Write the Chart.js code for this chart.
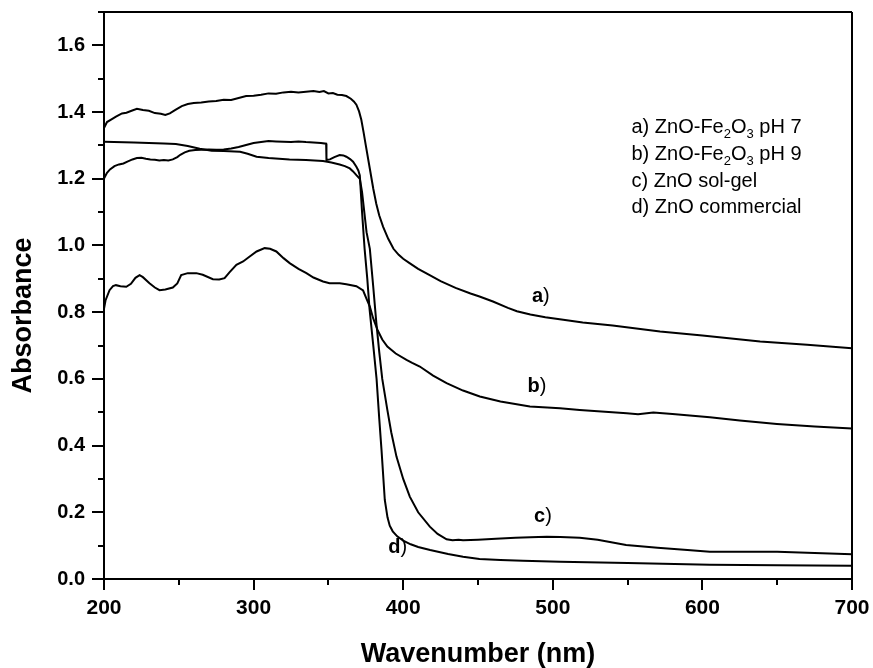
<!DOCTYPE html>
<html>
<head>
<meta charset="utf-8">
<script src="https://cdn.jsdelivr.net/npm/chart.js@4.4.1/dist/chart.umd.min.js"></script>
<style>
html,body{margin:0;padding:0;background:#fff;}
#wrap{width:873px;height:668px;}
</style>
</head>
<body>
<div id="wrap"><canvas id="c" width="873" height="668"></canvas></div>
<script>
// ---- data (wavelength nm, absorbance) ----
const wlA = [200,202,205,208,212,215,218,222,226,230,234,238,241,244,248,252,256,260,265,270,275,280,285,290,295,300,305,310,315,320,325,330,335,340,344,347,350,353,356,359,362,365,367,368.7,370.5,372,373.5,375,377.7,380,382,384,386.6,390,393.5,397,400,404,410,418,425,435,445,451,460,470,476,485,495,507,520,540,571.7,600,638.6,670,700];
const absA = [1.352,1.370,1.378,1.386,1.396,1.398,1.403,1.410,1.406,1.404,1.397,1.395,1.391,1.396,1.407,1.418,1.424,1.427,1.429,1.432,1.433,1.437,1.436,1.442,1.448,1.449,1.452,1.456,1.455,1.459,1.461,1.459,1.461,1.463,1.460,1.463,1.456,1.457,1.452,1.451,1.448,1.440,1.432,1.422,1.402,1.377,1.340,1.300,1.230,1.170,1.125,1.090,1.056,1.020,0.990,0.972,0.960,0.948,0.930,0.910,0.893,0.873,0.856,0.847,0.832,0.813,0.803,0.793,0.785,0.777,0.769,0.760,0.742,0.730,0.712,0.702,0.692];

const wlB = [200,201,203.7,206,208,211,214.9,218,221,223.8,226,230.4,234,237.1,241,246,249,251.6,256,261.7,266,272.8,277,280.6,284,288.5,293,297.4,302,307.4,311,315.2,320,324.1,330,335.3,340,346.4,350.8,357.6,362,368.7,373.2,375.5,377.7,379.9,383,386,389.4,395,402.2,406,411.1,420,429,440,451.2,465,484.7,504.8,518,549.4,557,567.2,580,605,625,649.8,675,700];
const absB = [0.810,0.835,0.866,0.878,0.881,0.878,0.876,0.885,0.903,0.911,0.905,0.887,0.874,0.866,0.868,0.874,0.886,0.911,0.917,0.917,0.912,0.899,0.898,0.902,0.920,0.942,0.952,0.967,0.982,0.992,0.990,0.982,0.962,0.947,0.930,0.917,0.904,0.892,0.887,0.887,0.884,0.878,0.865,0.840,0.817,0.782,0.745,0.718,0.697,0.676,0.657,0.648,0.637,0.610,0.587,0.565,0.547,0.532,0.517,0.512,0.507,0.497,0.494,0.499,0.495,0.485,0.475,0.465,0.457,0.451];

const wlC = [200,220,240,248,256,264,272,280,291,296,302,310,324,335,346.4,352,357.5,361,364.3,366.5,368.7,371,372.5,374,375.5,377.7,379.9,382,384,386,389.4,392,395.5,400,404.4,410,417.8,423,429,433,437,440,445,450,462,475,485,496,505,518,530,549,570,590,605,630,650,675,700];
const absC = [1.311,1.309,1.306,1.304,1.298,1.290,1.284,1.283,1.281,1.275,1.266,1.262,1.258,1.256,1.253,1.249,1.243,1.238,1.231,1.222,1.211,1.200,1.160,1.100,1.040,0.990,0.880,0.770,0.680,0.600,0.507,0.440,0.367,0.300,0.247,0.200,0.157,0.135,0.119,0.116,0.118,0.116,0.117,0.118,0.121,0.124,0.125,0.127,0.126,0.124,0.118,0.102,0.094,0.087,0.082,0.082,0.082,0.078,0.074];

const wlD = [200,202,204,207,210,213,216,219,222,225,228,231,234,237,240,243,246,249,251,254,257,261,265,270,275,280,285,290,295,300,305,310,315,320,325,330,335,340,345,348.5,348.7,351,354,357.5,360,362,364.5,366.5,368.7,370,371,372.5,374.2,376,377.5,380,382.2,384,385.5,387.7,389.5,391,393,396,400,405,410,418,430,440,451,465,480,505,550,605,650,700];
const absD = [1.201,1.218,1.228,1.238,1.243,1.246,1.252,1.258,1.262,1.263,1.260,1.258,1.257,1.255,1.256,1.255,1.258,1.265,1.272,1.279,1.284,1.286,1.287,1.288,1.287,1.288,1.291,1.295,1.301,1.307,1.310,1.313,1.312,1.311,1.310,1.312,1.310,1.309,1.307,1.305,1.256,1.258,1.265,1.271,1.270,1.266,1.259,1.251,1.236,1.225,1.210,1.100,0.990,0.900,0.810,0.700,0.600,0.480,0.387,0.237,0.185,0.160,0.143,0.128,0.115,0.104,0.096,0.087,0.075,0.067,0.060,0.057,0.055,0.052,0.048,0.043,0.041,0.040];

const legendLines = [
  ["a) ZnO-Fe", "2", "O", "3", " pH 7"],
  ["b) ZnO-Fe", "2", "O", "3", " pH 9"],
  ["c) ZnO sol-gel"],
  ["d) ZnO commercial"]
];
const curveLabels = ["a", "b", "c", "d"];
const curveLabelX = [492, 489.4, 493.4, 396.3];
const curveLabelY = [0.846, 0.576, 0.186, 0.093];

const xTitle = "Wavenumber (nm)";
const yTitle = "Absorbance";

// ---- build ----
const FAM = '"Liberation Sans", Arial, Helvetica, sans-serif';
function pts(xs, ys){ return xs.map((x,i)=>({x:x, y:ys[i]})); }
function ds(label, xs, ys){
  return {label, data: pts(xs, ys), borderColor:'#000', borderWidth:2, pointRadius:0, tension:0, fill:false};
}

const decor = {
  id:'decor',
  afterDraw(chart){
    const ctx = chart.ctx, ca = chart.chartArea;
    const xs = chart.scales.x, ys = chart.scales.y;
    ctx.save();
    ctx.strokeStyle = '#000';
    ctx.lineWidth = 2;
    // frame top & right
    ctx.beginPath();
    ctx.moveTo(ca.left-1, ca.top); ctx.lineTo(ca.right, ca.top);
    ctx.moveTo(ca.right, ca.top); ctx.lineTo(ca.right, ca.bottom);
    ctx.stroke();
    // x ticks
    ctx.beginPath();
    for (let v=200; v<=700; v+=50){
      const p = Math.round(xs.getPixelForValue(v));
      const len = (v%100===0) ? 11 : 6;
      ctx.moveTo(p, ca.bottom); ctx.lineTo(p, ca.bottom+len);
    }
    // y ticks
    for (let k=0; k<=17; k++){
      const v = k/10;
      const p = Math.round(ys.getPixelForValue(v));
      const len = (k%2===0) ? 12 : 6;
      ctx.moveTo(ca.left, p); ctx.lineTo(ca.left-len, p);
    }
    ctx.stroke();

    ctx.fillStyle = '#000';

    // y axis title (rotated)
    ctx.save();
    ctx.translate(24, ca.top + (ca.bottom - ca.top)/2 + 20);
    ctx.rotate(-Math.PI/2);
    ctx.textAlign = 'center';
    ctx.textBaseline = 'middle';
    ctx.font = 'bold 27px ' + FAM;
    ctx.fillText(yTitle, 0, 0);
    ctx.restore();

    // legend text
    ctx.textBaseline = 'alphabetic';
    ctx.textAlign = 'left';
    const lx = ca.left + 527.5;
    const baseY = [133,160,187,213];
    legendLines.forEach((parts, i)=>{
      let x = lx;
      const by = baseY[i];
      parts.forEach((t, j)=>{
        const sub = (parts.length>1 && (j===1 || j===3));
        ctx.font = (sub ? '13px ' : '20px ') + FAM;
        ctx.fillText(t, x, sub ? by+5 : by);
        x += ctx.measureText(t).width;
      });
    });

    // curve labels
    curveLabels.forEach((l, i)=>{
      const cx = xs.getPixelForValue(curveLabelX[i]);
      const cy = ys.getPixelForValue(curveLabelY[i]);
      ctx.font = 'bold 20px ' + FAM;
      const w1 = ctx.measureText(l).width;
      ctx.font = '20px ' + FAM;
      const w2 = ctx.measureText(')').width;
      let x = cx - (w1+w2)/2;
      ctx.textBaseline = 'middle';
      ctx.font = 'bold 20px ' + FAM;
      ctx.fillText(l, x, cy);
      ctx.font = '20px ' + FAM;
      ctx.fillText(')', x+w1, cy);
    });
    ctx.restore();
  }
};

new Chart(document.getElementById('c'), {
  type:'line',
  data:{ datasets:[
    ds('a) ZnO-Fe2O3 pH 7', wlA, absA),
    ds('b) ZnO-Fe2O3 pH 9', wlB, absB),
    ds('c) ZnO sol-gel', wlC, absC),
    ds('d) ZnO commercial', wlD, absD)
  ]},
  options:{
    responsive:false,
    animation:false,
    devicePixelRatio:1,
    layout:{padding:{top:12, right:21, left:0, bottom:0}},
    plugins:{legend:{display:false}, tooltip:{enabled:false}},
    scales:{
      x:{
        type:'linear', min:200, max:700,
        ticks:{stepSize:100, color:'#000', font:{family:FAM, size:21, weight:'bold'}, padding:5, maxRotation:0,
               callback:v=>String(v)},
        grid:{drawOnChartArea:false, color:'rgba(0,0,0,0)', tickLength:12},
        border:{display:true, color:'#000', width:2},
        title:{display:true, text:xTitle, color:'#000', font:{family:FAM, size:27, weight:'bold', lineHeight:1}, padding:{top:0,bottom:0}},
        afterFit:s=>{ s.height = 89; s.paddingLeft = 0; s.paddingRight = 0; }
      },
      y:{
        type:'linear', min:0, max:1.7,
        ticks:{stepSize:0.2, color:'#000', font:{family:FAM, size:20, weight:'bold'}, padding:7,
               callback:v=>Number(v).toFixed(1)},
        afterBuildTicks:s=>{ s.ticks = s.ticks.filter(t=>Math.abs(t.value*5 - Math.round(t.value*5))<1e-6); },
        grid:{drawOnChartArea:false, color:'rgba(0,0,0,0)', tickLength:12},
        border:{display:true, color:'#000', width:2},
        title:{display:false, text:yTitle},
        afterFit:s=>{ s.width = 104; s.paddingTop = 0; s.paddingBottom = 0; }
      }
    }
  },
  plugins:[decor]
});
</script>
</body>
</html>
